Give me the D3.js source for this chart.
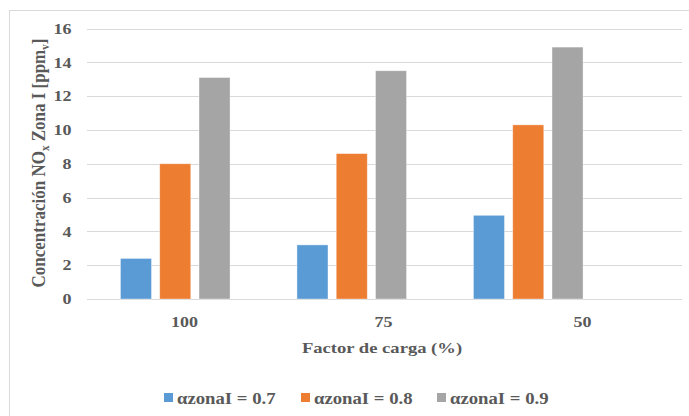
<!DOCTYPE html>
<html><head><meta charset="utf-8">
<script src="https://cdn.jsdelivr.net/npm/d3@7"></script>
<style>body{margin:0;background:#fff}svg{display:block}
svg text{font-family:"Liberation Serif","Times New Roman",serif;font-weight:bold;fill:#595959}</style>
</head><body>
<script>
const categories = ["100", "75", "50"];
const seriesNames = ["\u03b1zonaI = 0.7", "\u03b1zonaI = 0.8", "\u03b1zonaI = 0.9"];
const series07 = [2.4, 3.2, 4.95];
const series08 = [8.0, 8.6, 10.3];
const series09 = [13.1, 13.5, 14.9];
const yTicks = [0, 2, 4, 6, 8, 10, 12, 14, 16];
const colors = ["#5B9BD5", "#ED7D31", "#A5A5A5"];

(function () {
const W = 689, H = 416;
const SX = 1.2; // horizontal stretch of text in the reference
const svg = d3.select("body").append("svg").attr("width", W).attr("height", H);

// chart border
svg.append("rect").attr("x", 9.5).attr("y", 10.5).attr("width", 700).attr("height", 420)
  .attr("fill", "none").attr("stroke", "#d9d9d9").attr("stroke-width", 1);

const plotLeft = 87, gridRight = 682, plotTop = 28.5, plotBottom = 299;
// label axis spans the full plot; bar groups sit on a narrower band
const xLab = d3.scaleBand().domain(categories).range([85, gridRight]);
const x = d3.scaleBand().domain(categories).range([plotLeft, plotLeft + 3 * 176.5]);
const y = d3.scaleLinear().domain([0, 16]).range([plotBottom, plotTop]);
const xs = d3.scaleBand().domain([0, 1, 2]).range([0, 109.6]).paddingInner(0.21);

// gridlines
svg.append("g").selectAll("line").data(yTicks).join("line")
  .attr("x1", plotLeft).attr("x2", gridRight)
  .attr("y1", d => Math.round(y(d)) + 0.5).attr("y2", d => Math.round(y(d)) + 0.5)
  .attr("stroke", "#d9d9d9").attr("stroke-width", 1);

// y axis labels
const yAxis = d3.axisLeft(y).tickValues(yTicks).tickSize(0).tickPadding(0);
const gy = svg.append("g").attr("transform", `translate(71.5,0)`).call(yAxis)
  .attr("font-family", null).attr("font-size", null);
gy.select(".domain").remove();
gy.selectAll("text").style("font-size", "15px").attr("fill", null).attr("transform", `scale(${SX},1)`);

// x axis labels
const xAxis = d3.axisBottom(xLab).tickSize(0).tickPadding(0);
const gx = svg.append("g").attr("transform", `translate(0,316.5)`).call(xAxis)
  .attr("font-family", null).attr("font-size", null);
gx.select(".domain").remove();
gx.selectAll("text").style("font-size", "15px").attr("fill", null).attr("transform", `scale(${SX},1)`);

// bars
const allSeries = [series07, series08, series09];
const groups = svg.append("g").selectAll("g").data(categories).join("g")
  .attr("transform", d => `translate(${x(d) + x.bandwidth() / 2 - 54.8},0)`);
groups.selectAll("rect").data((d, i) => allSeries.map((s, k) => ({k, v: s[i]}))).join("rect")
  .attr("x", d => xs(d.k)).attr("width", xs.bandwidth())
  .attr("y", d => y(d.v)).attr("height", d => y(0) - y(d.v))
  .attr("fill", d => colors[d.k]).attr("stroke", "#fff").attr("stroke-opacity", 0.5).attr("stroke-width", 0.75);

// x title
svg.append("text").attr("transform", `translate(382,353) scale(${SX},1)`).attr("text-anchor", "middle")
  .style("font-size", "15.5px").text("Factor de carga (%)");

// y title
const yt = svg.append("text").attr("transform", "translate(45,163) rotate(-90) scale(1,1.1)").attr("text-anchor", "middle")
  .style("font-size", "17px");
yt.append("tspan").text("Concentraci\u00f3n NO");
yt.append("tspan").style("font-size", "11px").attr("dy", 4).text("x");
yt.append("tspan").attr("dy", -4).text(" Zona I [ppm");
yt.append("tspan").style("font-size", "11px").attr("dy", 4).text("v");
yt.append("tspan").attr("dy", -4).text("]");

// legend
const legX = [164, 301, 437];
const leg = svg.append("g").selectAll("g").data(seriesNames).join("g")
  .attr("transform", (d, i) => `translate(${legX[i]},393)`);
leg.append("rect").attr("width", 9).attr("height", 9).attr("fill", (d, i) => colors[i]);
leg.append("text").attr("transform", `translate(13,10.5) scale(1.17,1)`).style("font-size", "16px").text(d => d);
})();
</script>
</body></html>
